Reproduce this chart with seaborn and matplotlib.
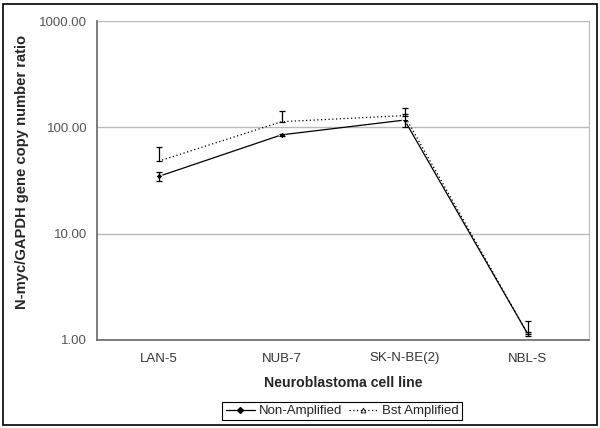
import seaborn as sns
import matplotlib.pyplot as plt
import pandas as pd
from matplotlib.patches import Rectangle

# data
cell_lines = ["LAN-5", "NUB-7", "SK-N-BE(2)", "NBL-S"]
non_amplified = [34.5, 85.0, 117.0, 1.15]
non_amplified_err = [3.5, 2.0, 17.0, 0.05]
bst_amplified = [48.0, 113.0, 129.0, 1.15]
bst_amplified_err = [17.0, 30.0, 23.0, 0.37]
y_ticks = [1, 10, 100, 1000]

sns.set_style("white")
plt.rcParams["font.family"] = ["Liberation Sans", "DejaVu Sans"]

fig = plt.figure(figsize=(6, 4.28), dpi=100)
ax = fig.add_axes([97 / 600, 1 - 340 / 428, 492 / 600, 319 / 428])

pos = list(range(len(cell_lines)))
df = pd.DataFrame({"pos": pos * 2,
                   "value": non_amplified + bst_amplified,
                   "series": ["Non-Amplified"] * 4 + ["Bst Amplified"] * 4})

sns.lineplot(data=df, x="pos", y="value", hue="series", style="series",
             palette={"Non-Amplified": "black", "Bst Amplified": "black"},
             dashes={"Non-Amplified": "", "Bst Amplified": (1, 2)},
             markers={"Non-Amplified": "D", "Bst Amplified": "^"},
             linewidth=0.9, markersize=3.5, ax=ax, legend=False)

# open triangles for the amplified series
for ln in ax.lines[1:2]:
    ln.set_markerfacecolor("white")
    ln.set_markeredgewidth(0.7)
    ln.set_markersize(4)

ax.errorbar(pos, non_amplified, yerr=non_amplified_err, fmt="none",
            ecolor="black", elinewidth=0.9, capsize=2.5, capthick=0.9)
ax.errorbar(pos, bst_amplified, yerr=[[0] * 4, bst_amplified_err], fmt="none",
            ecolor="black", elinewidth=0.9, capsize=2.5, capthick=0.9)

ax.set_yscale("log")
ax.set_ylim(1, 1000)
ax.set_yticks(y_ticks)
ax.set_yticklabels([f"{v:.2f}" for v in y_ticks])
ax.minorticks_off()
ax.set_xlim(-0.5, len(cell_lines) - 0.5)
ax.set_xticks(pos)
ax.set_xticklabels(cell_lines)
ax.set_xticks([p + 0.5 for p in pos], minor=True)
ax.tick_params(axis="x", which="major", length=0, labelsize=9.5, pad=9, colors="#333333")
ax.tick_params(axis="x", which="minor", length=4, width=1, color="#666666", direction="out")
ax.tick_params(axis="y", which="major", length=4, width=1, color="#666666",
               direction="out", labelsize=9.5, labelcolor="#555555", pad=3)

ax.yaxis.grid(True, color="#bbbbbb", linewidth=1)
ax.set_axisbelow(True)
for side in ["left", "bottom"]:
    ax.spines[side].set_color("#666666")
    ax.spines[side].set_linewidth(1.2)
ax.spines["top"].set_visible(False)
ax.spines["right"].set_color("#bbbbbb")

ax.set_xlabel("Neuroblastoma cell line", fontsize=10.2, fontweight="bold", labelpad=8)
ax.set_ylabel("N-myc/GAPDH gene copy number ratio", fontsize=10.6, fontweight="bold")
ax.yaxis.set_label_coords(-0.138, 0.527)

handles = [plt.Line2D([], [], color="black", linewidth=0.9, marker="D", markersize=3),
           plt.Line2D([], [], color="black", linewidth=0.9, linestyle=(0, (1, 2)), marker="^",
                      markersize=3.5, markerfacecolor="white", markeredgewidth=0.6)]
leg = fig.legend(handles, ["Non-Amplified", "Bst Amplified"], loc="center",
                 bbox_to_anchor=(342 / 600, 1 - 411 / 428), ncol=2, fontsize=9.5,
                 frameon=True, fancybox=False, edgecolor="black", framealpha=1,
                 handlelength=2.2, handletextpad=0.3, columnspacing=0.5, borderpad=0.25)
leg.get_frame().set_linewidth(0.8)
for t in leg.get_texts():
    t.set_color("#222222")

fig.patches.append(Rectangle((3 / 600, 3 / 428), 594 / 600, 421 / 428, transform=fig.transFigure,
                             fill=False, edgecolor="black", linewidth=1.2))

fig.savefig("out.png", dpi=100)
